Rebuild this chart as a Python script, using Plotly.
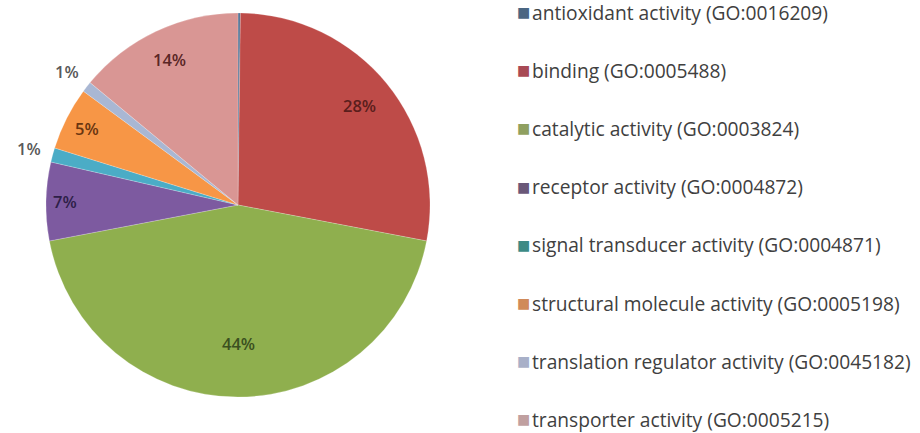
import numpy as np
import plotly.graph_objects as go

categories = [
    "antioxidant activity (GO:0016209)",
    "binding (GO:0005488)",
    "catalytic activity (GO:0003824)",
    "receptor activity (GO:0004872)",
    "signal transducer activity (GO:0004871)",
    "structural molecule activity (GO:0005198)",
    "translation regulator activity (GO:0045182)",
    "transporter activity (GO:0005215)",
]
values = [0.2, 27.8, 44.0, 6.6, 1.2, 5.3, 0.9, 14.0]

# styles
colors = ["#4F6F91", "#BE4B48", "#8FAF4E", "#7D5AA0", "#4BACC6", "#F79646", "#A9B7D3", "#D99694"]
legend_colors = ["#4A6682", "#A84A55", "#8FA060", "#6A5878", "#3C8A85", "#D08A5A", "#A8B0C8", "#C0A0A0"]
text_colors = ["#333333", "#5A1E1C", "#3B5020", "#2E1F48", "#595959", "#6A3510", "#595959", "#5A2626"]
label_radius = [None, 0.82, 0.72, 0.9, 1.13, 0.88, 1.13, 0.84]

W, H = 920, 433
cx, cy, R = 238, 205, 192

fig = go.Figure()
fig.add_trace(go.Pie(
    labels=categories,
    values=values,
    sort=False,
    direction="clockwise",
    rotation=0,
    marker=dict(colors=colors, line=dict(color="rgba(255,255,255,0.35)", width=0.6)),
    textinfo="none",
    showlegend=False,
    hoverinfo="label+percent",
    domain=dict(x=[(cx - R) / W, (cx + R) / W], y=[(H - cy - R) / H, (H - cy + R) / H]),
))

annotations = []

# percentage labels, placed from the data's cumulative angles
vals = np.array(values, dtype=float)
frac = vals / vals.sum()
ends = np.cumsum(frac)
mids = ends - frac / 2
for i, (f, m) in enumerate(zip(frac, mids)):
    rr = label_radius[i]
    if rr is None:
        continue
    ang = 2 * np.pi * m
    px = cx + rr * R * np.sin(ang)
    py = cy - rr * R * np.cos(ang)
    annotations.append(dict(
        x=px / W, y=1 - py / H, xref="paper", yref="paper",
        xanchor="center", yanchor="middle", showarrow=False,
        text=f"{round(f * 100):.0f}%",
        font=dict(family="Open Sans", size=16.5, color=text_colors[i], weight=600),
    ))

# legend
y0, dy = 12, 58.2
for i, (name, col) in enumerate(zip(categories, legend_colors)):
    ypix = y0 + i * dy
    annotations.append(dict(
        x=515 / W, y=1 - ypix / H, xref="paper", yref="paper",
        xanchor="left", yanchor="middle", showarrow=False,
        text="■", font=dict(family="DejaVu Sans", size=14, color=col),
    ))
    annotations.append(dict(
        x=530 / W, y=1 - ypix / H, xref="paper", yref="paper",
        xanchor="left", yanchor="middle", showarrow=False,
        text=name, font=dict(family="Open Sans", size=19.2, color="#404040"),
    ))

fig.update_layout(
    width=W, height=H,
    margin=dict(l=0, r=0, t=0, b=0),
    paper_bgcolor="white",
    plot_bgcolor="white",
    annotations=annotations,
)

fig.write_html("out.html")
